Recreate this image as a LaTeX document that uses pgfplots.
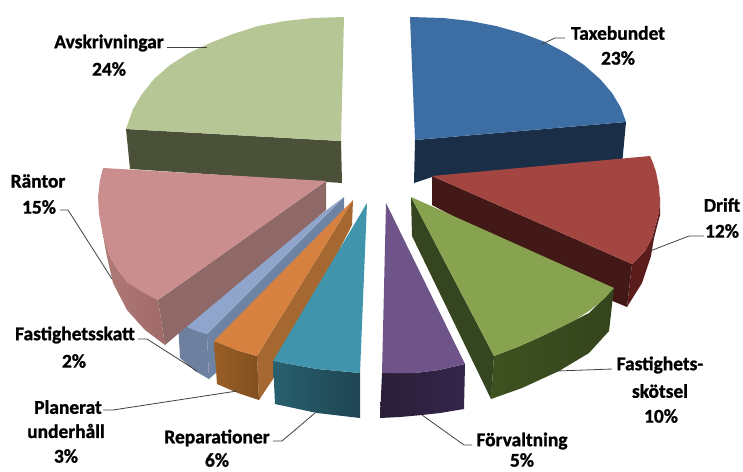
\documentclass[border=0pt]{standalone}
\usepackage{fontspec}
\setmainfont[BoldFeatures={FakeBold=1.2}]{Carlito}
\usepackage{pgfplots}
\pgfplotsset{compat=1.18}

\definecolor{blueTop}{HTML}{3C6EA3}\definecolor{blueIn}{HTML}{1A2F47}
\definecolor{redTop}{HTML}{A34540}\definecolor{redIn}{HTML}{431917}\definecolor{redOut}{HTML}{5A1D1C}
\definecolor{greenTop}{HTML}{87A34F}\definecolor{greenIn}{HTML}{35451F}\definecolor{greenOutA}{HTML}{3D5220}\definecolor{greenOutB}{HTML}{34441C}
\definecolor{purpleTop}{HTML}{6E5489}\definecolor{purpleOutA}{HTML}{33254A}\definecolor{purpleOutB}{HTML}{2A1F38}
\definecolor{tealTop}{HTML}{4095AC}\definecolor{tealOutA}{HTML}{28606F}\definecolor{tealOutB}{HTML}{1F4452}
\definecolor{orangeTop}{HTML}{D6813F}\definecolor{orangeOutA}{HTML}{9A5E26}\definecolor{orangeOutB}{HTML}{80501F}\definecolor{orangeIn}{HTML}{A66831}
\definecolor{skyTop}{HTML}{8FA5CB}\definecolor{skyOut}{HTML}{6E80A0}\definecolor{skyIn}{HTML}{6E83A3}
\definecolor{pinkTop}{HTML}{CA8E8E}\definecolor{pinkOutA}{HTML}{B07A78}\definecolor{pinkOutB}{HTML}{A06A68}\definecolor{pinkIn}{HTML}{8F6967}
\definecolor{oliveTop}{HTML}{B6C795}\definecolor{oliveIn}{HTML}{4B5138}
\definecolor{leader}{HTML}{404040}

\tikzset{
  face/.style={draw=none, mark=none},
  leaderline/.style={draw=leader, line width=0.8pt, mark=none},
  lab/.style={font=\fontsize{19.5}{22}\selectfont\bfseries, text=black, inner sep=0pt, anchor=center},
}

\begin{document}
\begin{tikzpicture}
\path[use as bounding box] (0,0) rectangle (743bp,472bp);
\begin{axis}[
  at={(0,0)}, anchor=south west,
  scale only axis, width=743bp, height=472bp,
  xmin=0, xmax=743, ymin=0, ymax=472, y dir=reverse,
  axis lines=none, clip=false,
]
% Avskrivningar 24 %
\addplot[face, fill=oliveIn] coordinates {(126,129)(130,169)(342,183)(341,141)};
\addplot[face, fill=oliveTop] coordinates {(344,17)(313,18)(285,21)(258,26)(233,34)(210,43)(189,53)(170,65)(154,79)(142,94)(133,109)(126,129)(341,141)};
% Taxebundet 23 %
\addplot[face, fill=blueIn] coordinates {(415,140)(626,122)(622,165)(432,177)(414,183)};
\addplot[face, fill=blueTop] coordinates {(410,17)(443,18)(470,21)(496,26)(521,33)(545,42)(566,53)(584,65)(600,79)(612,93)(621,108)(626,122)(415,140)};
% Drift 12 %
\addplot[face, fill=redIn] coordinates {(432,176)(632,264)(627,307)(610,300)(432,205)};
\addplot[face, fill=redOut] coordinates {(660,197)(660,215)(654,238)(651,256)(642,283)(627,307)(632,264)(645,251)(652,238)(659,212)};
\addplot[face, fill=redTop] coordinates {(432,176)(650,156)(653,163)(656,172)(659,187)(660,200)(659,212)(655,227)(652,238)(645,251)(632,264)};
% Fastighetsskötsel 10 %
\addplot[face, fill=greenIn] coordinates {(411,197)(494,356)(491,399)(412,236)};
\addplot[face, left color=greenOutA, right color=greenOutB] coordinates {(494,356)(520,346)(540,337)(559,328)(589,313)(614,288)(609,331)(589,353)(559,371)(522,388)(491,399)};
\addplot[face, fill=greenTop] coordinates {(411,197)(614,288)(604,299)(589,311)(575,320)(559,328)(540,337)(520,346)(494,356)};
% Förvaltning 5 %
\addplot[face, left color=purpleOutB, right color=purpleOutA] coordinates {(382,373)(415,373)(439,370)(465,364)(464,409)(440,413)(422,415)(400,417)(380,418)};
\addplot[face, fill=purpleTop] coordinates {(386,203)(465,364)(439,370)(415,373)(382,373)};
% Fastighetsskatt 2 %
\addplot[face, fill=skyIn] coordinates {(344,197)(207,334)(209,379)(217,372)(344,215)};
\addplot[face, fill=skyOut] coordinates {(178,322)(192,329)(207,334)(209,379)(195,371)(180,358)};
\addplot[face, fill=skyTop] coordinates {(344,197)(207,334)(192,329)(178,322)};
% Räntor 15 %
\addplot[face, fill=pinkIn] coordinates {(326,181)(158,300)(165,345)(178,334)(326,210)};
\addplot[face, left color=pinkOutA, right color=pinkOutB] coordinates {(102,230)(110,257)(127,282)(158,300)(165,345)(145,330)(127,310)(113,283)(107,257)};
\addplot[face, fill=pinkTop] coordinates {(326,181)(103,168)(100,180)(98,197)(99,214)(102,230)(110,257)(118,271)(127,282)(142,292)(158,300)};
% Planerat underhåll 3 %
\addplot[face, fill=orangeIn] coordinates {(353,200)(257,356)(259,400)(273,379)(352,225)};
\addplot[face, left color=orangeOutA, right color=orangeOutB] coordinates {(214,341)(236,350)(257,356)(259,400)(238,393)(217,384)};
\addplot[face, fill=orangeTop] coordinates {(353,200)(257,356)(236,350)(214,341)};
% Reparationer 6 %
\addplot[face, left color=tealOutA, right color=tealOutB] coordinates {(273,361)(317,369)(360,373)(360,418)(317,413)(275,404)};
\addplot[face, fill=tealTop] coordinates {(367,203)(360,373)(317,369)(273,361)};

% Leader lines
\addplot[leaderline] coordinates {(167,47)(207,47)};
\addplot[leaderline] coordinates {(565,38)(555,38)(542,44)};
\addplot[leaderline] coordinates {(704,236)(689,236)(650,251)};
\addplot[leaderline] coordinates {(612,369)(557,371)};
\addplot[leaderline] coordinates {(472,445)(464,445)(422,415)};
\addplot[leaderline] coordinates {(273,441)(282,441)(315,413)};
\addplot[leaderline] coordinates {(103,410)(113,410)(237,391)};
\addplot[leaderline] coordinates {(138,339)(147,339)(197,371)};
\addplot[leaderline] coordinates {(60,210)(68,210)(112,279)};

% Labels
\node[lab] at (axis cs:109,43) {Avskrivningar};
\node[lab] at (axis cs:109,69) {24\%};
\node[lab] at (axis cs:618,33) {Taxebundet};
\node[lab] at (axis cs:618,58) {23\%};
\node[lab] at (axis cs:722,205) {Drift};
\node[lab] at (axis cs:722,231) {12\%};
\node[lab] at (axis cs:660,365) {Fastighets-};
\node[lab] at (axis cs:660,391) {skötsel};
\node[lab] at (axis cs:661,416) {10\%};
\node[lab] at (axis cs:522,441) {Förvaltning};
\node[lab] at (axis cs:522,460) {5\%};
\node[lab] at (axis cs:217,438) {Reparationer};
\node[lab] at (axis cs:217,460) {6\%};
\node[lab] at (axis cs:68,407) {Planerat};
\node[lab] at (axis cs:66,431) {underhåll};
\node[lab] at (axis cs:66,456) {3\%};
\node[lab] at (axis cs:75,335) {Fastighetsskatt};
\node[lab] at (axis cs:74,361) {2\%};
\node[lab] at (axis cs:38,181) {Räntor};
\node[lab] at (axis cs:39,207) {15\%};
\end{axis}
\end{tikzpicture}
\end{document}
